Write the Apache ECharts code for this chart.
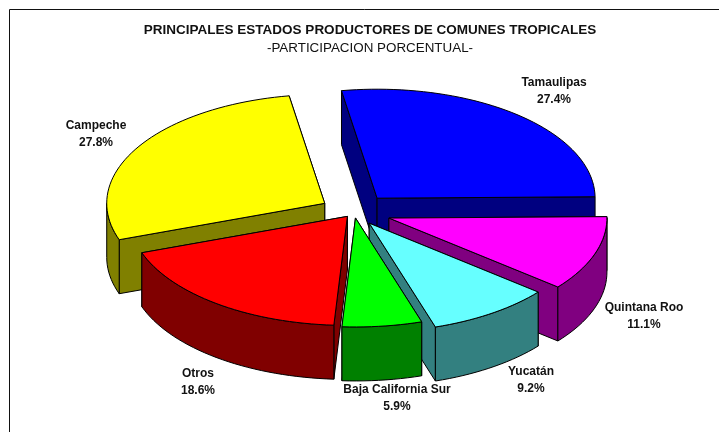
<!DOCTYPE html>
<html>
<head>
<meta charset="utf-8">
<style>
  html, body { margin: 0; padding: 0; background: #fff; }
  #chart { width: 719px; height: 432px; }
</style>
</head>
<body>
<div id="chart"></div>
<script src="https://cdn.jsdelivr.net/npm/echarts@6/dist/echarts.min.js"></script>
<script>
// clockwise from the top of the pie
const states = ['Tamaulipas', 'Quintana Roo', 'Yucatán', 'Baja California Sur', 'Otros', 'Campeche'];
const shares = [27.4, 11.1, 9.2, 5.9, 18.6, 27.8];

// look of the pie
const topColors = ['#0000ff', '#ff00ff', '#66ffff', '#00ff00', '#ff0000', '#ffff00'];
const sideColors = ['#000080', '#800080', '#338080', '#008000', '#800000', '#808000'];
const explode = [36, 37, 27, 12, 11, 34];
const labelAt = [[554, 91], [644, 316], [531, 380], [397, 398], [198, 382], [96, 134]];
// back to front
const drawOrder = [0, 5, 1, 4, 2, 3];

const CX = 354, CY = 212, RX = 218, RY = 109, DEPTH = 54, FIRST_ANGLE = 99.4;
const rad = (d) => d * Math.PI / 180;

// start/end angle of every slice, going clockwise
let running = FIRST_ANGLE;
const total = shares.reduce((a, b) => a + b, 0);
const spans = shares.map((v) => {
  const from = running;
  running -= v / total * 360;
  return [from, running];
});

function arc(apex, from, to, dy) {
  const pts = [];
  const steps = Math.max(2, Math.ceil(Math.abs(from - to) / 2));
  for (let k = 0; k <= steps; k++) {
    const a = rad(from + (to - from) * k / steps);
    pts.push([apex[0] + RX * Math.cos(a), apex[1] - RY * Math.sin(a) + dy]);
  }
  return pts;
}

function face(points, fill) {
  return {
    type: 'polygon',
    shape: { points },
    style: { fill, stroke: '#000', lineWidth: 1, lineJoin: 'round' },
  };
}

function renderSlice(params) {
  const i = drawOrder[params.dataIndex];
  const [from, to] = spans[i];
  const mid = rad((from + to) / 2);
  const apex = [
    CX + explode[i] * Math.cos(mid),
    CY - explode[i] * (RY / RX) * Math.sin(mid),
  ];
  const side = sideColors[i];
  const low = [apex[0], apex[1] + DEPTH];
  const children = [];

  // the two cut faces, rear one first
  const edges = [from, to].map((a) => arc(apex, a, a, 0)[0]).sort((p, q) => p[1] - q[1]);
  edges.forEach((p) => {
    children.push(face([apex, p, [p[0], p[1] + DEPTH], low], side));
  });

  // outer wall, only the part on the front half of the rim
  const norm = (a) => ((a % 360) + 360) % 360;
  const wallFrom = Math.min(norm(from) === 0 ? 360 : norm(from), 360);
  const wallTo = norm(to);
  const hi = wallFrom > wallTo ? wallFrom : wallFrom + 360;
  const a0 = Math.max(wallTo, 180);
  const a1 = Math.min(hi, 360);
  if (a1 > a0) {
    children.push(face(arc(apex, a1, a0, 0).concat(arc(apex, a0, a1, DEPTH)), side));
  }

  // top
  children.push(face([apex].concat(arc(apex, from, to, 0)), topColors[i]));

  children.push({
    type: 'text',
    z2: 10,
    style: {
      text: states[i] + '\n' + shares[i].toFixed(1) + '%',
      x: labelAt[i][0],
      y: labelAt[i][1],
      align: 'center',
      verticalAlign: 'middle',
      font: 'bold 12px "Liberation Sans", Arial, sans-serif',
      lineHeight: 17,
      fill: '#111',
    },
  });
  return { type: 'group', children };
}

const chart = echarts.init(document.getElementById('chart'), null, { renderer: 'canvas' });
chart.setOption({
  animation: false,
  backgroundColor: '#fff',
  title: [
    {
      text: 'PRINCIPALES ESTADOS PRODUCTORES DE COMUNES TROPICALES',
      left: 365,
      top: 18,
      textAlign: 'center',
      textStyle: { fontFamily: 'Liberation Sans', fontSize: 13.5, fontWeight: 'bold', color: '#111' },
    },
    {
      text: '-PARTICIPACION PORCENTUAL-',
      left: 365,
      top: 37,
      textAlign: 'center',
      textStyle: { fontFamily: 'Liberation Sans', fontSize: 13.4, fontWeight: 'normal', color: '#111' },
    },
  ],
  graphic: [
    {
      type: 'polyline',
      shape: { points: [[9.5, 432], [9.5, 9.5], [719, 9.5]] },
      style: { stroke: '#111', lineWidth: 1, fill: 'none' },
      silent: true,
    },
  ],
  series: [
    {
      type: 'custom',
      coordinateSystem: 'none',
      silent: true,
      renderItem: renderSlice,
      data: drawOrder.map((i) => ({ name: states[i], value: shares[i] })),
    },
  ],
});
</script>
</body>
</html>
